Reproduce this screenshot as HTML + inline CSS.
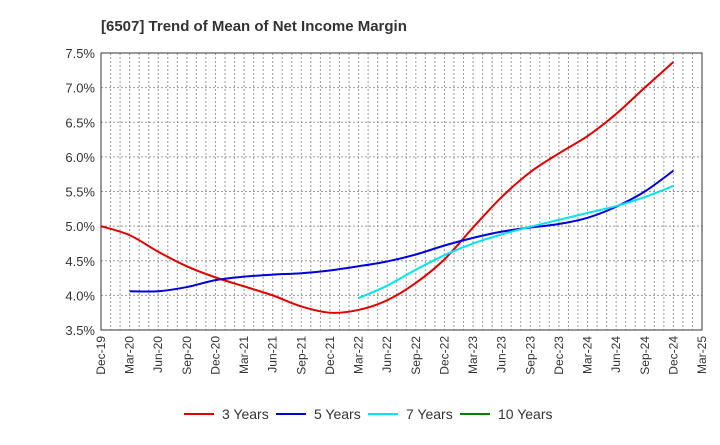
<!DOCTYPE html>
<html><head><meta charset="utf-8"><style>
body{margin:0;background:#fff;font-family:"Liberation Sans",Arial,sans-serif}
</style></head><body>
<svg id="c" width="720" height="440" xmlns="http://www.w3.org/2000/svg" font-family="Liberation Sans, Arial, sans-serif">
<text x="101" y="31" font-size="15" font-weight="bold" fill="#333">[6507]  Trend of Mean of Net Income Margin</text>
<g id="grid"></g><g id="axes"></g><g id="series"></g><g id="legend"></g>
</svg>
<script>
const xLabels=["Dec-19","Mar-20","Jun-20","Sep-20","Dec-20","Mar-21","Jun-21","Sep-21","Dec-21","Mar-22","Jun-22","Sep-22","Dec-22","Mar-23","Jun-23","Sep-23","Dec-23","Mar-24","Jun-24","Sep-24","Dec-24","Mar-25"];
const yTicks=[3.5,4.0,4.5,5.0,5.5,6.0,6.5,7.0,7.5];
const s3=[5.0,4.87,4.63,4.42,4.26,4.13,4.00,3.84,3.75,3.79,3.93,4.18,4.52,4.98,5.42,5.78,6.05,6.30,6.62,7.0,7.37];
const s3Start=0;
const s5=[4.06,4.06,4.12,4.22,4.27,4.30,4.32,4.36,4.42,4.49,4.59,4.72,4.83,4.92,4.98,5.03,5.12,5.28,5.50,5.80];
const s5Start=1;
const s7=[3.96,4.14,4.37,4.58,4.75,4.88,4.99,5.09,5.19,5.29,5.42,5.58];
const s7Start=9;
const s10=[];
const s10Start=0;
const L=101,R=702,T=53,B=330,NS="http://www.w3.org/2000/svg";
const xq=i=>L+(R-L)*i/(xLabels.length-1);
const xm=m=>L+(R-L)*m/((xLabels.length-1)*3);
const y=v=>B-(v-3.5)/(7.5-3.5)*(B-T);
function mk(t,a,p){const e=document.createElementNS(NS,t);for(const k in a)e.setAttribute(k,a[k]);p.appendChild(e);return e;}
const g=document.getElementById('grid'),ax=document.getElementById('axes'),sg=document.getElementById('series'),lg=document.getElementById('legend');
for(let m=1;m<(xLabels.length-1)*3;m++){const l=mk('line',{x1:xm(m),x2:xm(m),y1:T,y2:B,stroke:'#999','stroke-dasharray':'2,2','stroke-width':1},g);

}
yTicks.forEach(v=>{const l=mk('line',{x1:L,x2:R,y1:y(v),y2:y(v),stroke:'#999','stroke-dasharray':'2,2'},g);


const t=mk('text',{x:L-6,y:y(v)+5,'text-anchor':'end','font-size':13,fill:'#333'},ax);t.textContent=v.toFixed(1)+'%';

});
const fr=mk('rect',{x:L,y:T,width:R-L,height:B-T,fill:'none',stroke:'#333'},ax);


xLabels.forEach((s,i)=>{const x=xq(i);const t=mk('text',{x:x+4,y:B+6,'text-anchor':'end','font-size':12,fill:'#333',transform:`rotate(-90 ${x+4} ${B+6})`},ax);t.textContent=s;

});
function path(arr,st){let d='';const p=arr.map((v,i)=>[xq(i+st),y(v)]);
if(!p.length)return '';d='M'+p[0];for(let i=0;i<p.length-1;i++){const p0=p[i-1]||p[i],p1=p[i],p2=p[i+1],p3=p[i+2]||p2;
const c1=[p1[0]+(p2[0]-p0[0])/6,p1[1]+(p2[1]-p0[1])/6],c2=[p2[0]-(p3[0]-p1[0])/6,p2[1]-(p3[1]-p1[1])/6];d+=` C${c1} ${c2} ${p2}`;}return d;}
const ser=[[s3,s3Start,'#e00000','3 Years'],[s5,s5Start,'#0000dd','5 Years'],[s7,s7Start,'#00e5ee','7 Years'],[s10,s10Start,'#008000','10 Years']];
const lx=[184,276,368,460];
ser.forEach((s,k)=>{if(s[0].length){const p=mk('path',{d:path(s[0],s[1]),fill:'none',stroke:s[2],'stroke-width':2},sg);

}
const gi=mk('g',{},lg);


mk('line',{x1:lx[k],x2:lx[k]+30,y1:414,y2:414,stroke:s[2],'stroke-width':2},gi);
const t=mk('text',{x:lx[k]+38,y:419,'font-size':14,fill:'#333'},gi);t.textContent=s[3];});
</script>
</body></html>
